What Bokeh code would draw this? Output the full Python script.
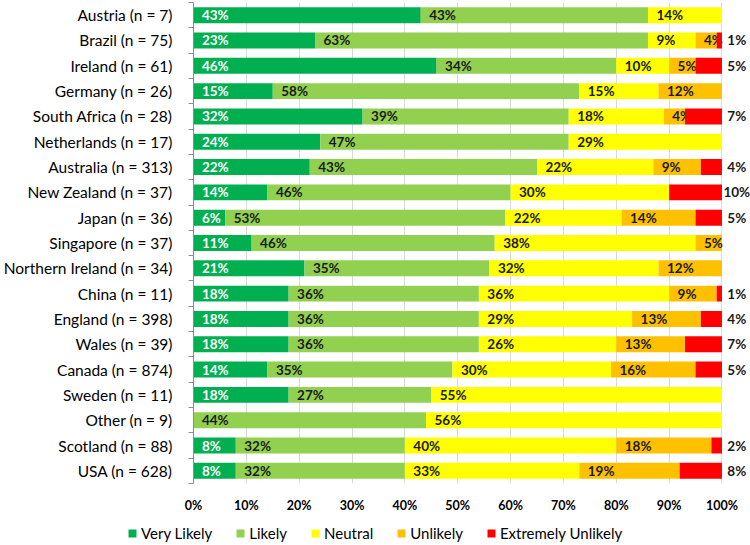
import numpy as np
from bokeh.plotting import figure
from bokeh.layouts import column
from bokeh.models import (Range1d, FixedTicker, Legend, LegendItem, ColumnDataSource)
from bokeh.core.properties import value
from bokeh.embed import file_html
from bokeh.resources import INLINE

categories = ["Austria (n = 7)", "Brazil (n = 75)", "Ireland (n = 61)", "Germany (n = 26)",
              "South Africa (n = 28)", "Netherlands (n = 17)", "Australia (n = 313)",
              "New Zealand (n = 37)", "Japan (n = 36)", "Singapore (n = 37)",
              "Northern Ireland (n = 34)", "China (n = 11)", "England (n = 398)",
              "Wales (n = 39)", "Canada (n = 874)", "Sweden (n = 11)", "Other (n = 9)",
              "Scotland (n = 88)", "USA (n = 628)"]
very_likely = [43, 23, 46, 15, 32, 24, 22, 14, 6, 11, 21, 18, 18, 18, 14, 18, 0, 8, 8]
likely      = [43, 63, 34, 58, 39, 47, 43, 46, 53, 46, 35, 36, 36, 36, 35, 27, 44, 32, 32]
neutral     = [14, 9, 10, 15, 18, 29, 22, 30, 22, 38, 32, 36, 29, 26, 30, 55, 56, 40, 33]
unlikely    = [0, 4, 5, 12, 4, 0, 9, 0, 14, 5, 12, 9, 13, 13, 16, 0, 0, 18, 19]
extremely   = [0, 1, 5, 0, 7, 0, 4, 10, 5, 0, 0, 1, 4, 7, 5, 0, 0, 2, 8]
series_names = ["Very Likely", "Likely", "Neutral", "Unlikely", "Extremely Unlikely"]
series_colors = ["#00B050", "#92D050", "#FFFF00", "#FFC000", "#FF0000"]
x_ticks = [0, 10, 20, 30, 40, 50, 60, 70, 80, 90, 100]

FONT = "Lato"
n = len(categories)
ys = np.arange(n)[::-1].astype(float)

p = figure(width=750, height=515, output_backend="svg", toolbar_location=None,
           x_range=Range1d(0, 105.4), y_range=Range1d(-0.5, n - 0.5),
           min_border_left=188, min_border_right=0, min_border_top=2,
           min_border_bottom=26)
p.outline_line_color = None
p.background_fill_color = "white"
p.border_fill_color = "white"

series = [very_likely, likely, neutral, unlikely, extremely]
cum = np.zeros(n)
pad = 1.6
for k, (vals, name, color) in enumerate(zip(series, series_names, series_colors)):
    v = np.array(vals, dtype=float)
    left = cum.copy()
    right = cum + v
    src = ColumnDataSource(dict(y=ys, left=left, right=right))
    p.hbar(y="y", left="left", right="right", height=0.63, source=src,
           fill_color=color, line_color=None)
    mask = v > 0
    if k == 4:
        lx = np.full(n, 102.8)
        align = "center"
    else:
        lx = left + pad
        align = "left"
    lsrc = ColumnDataSource(dict(x=lx[mask], y=ys[mask],
                                 t=[f"{int(a)}%" for a in v[mask]]))
    p.text(x="x", y="y", text="t", source=lsrc, text_align=align,
           text_baseline="middle", text_font=value(FONT), text_font_size="13.5px",
           text_font_style="bold", text_color="white" if k == 0 else "#1a1a1a")
    cum = right

# y axis
p.yaxis.ticker = FixedTicker(ticks=list(ys), minor_ticks=[k - 0.5 for k in range(n + 1)])
p.yaxis.major_label_overrides = {float(y): c for y, c in zip(ys, categories)}
p.yaxis.axis_line_color = "#8c8c8c"
p.yaxis.major_tick_line_color = None
p.yaxis.major_tick_out = 0
p.yaxis.major_tick_in = 0
p.yaxis.minor_tick_line_color = "#8c8c8c"
p.yaxis.minor_tick_out = 5
p.yaxis.minor_tick_in = 0
p.yaxis.major_label_standoff = 16
p.yaxis.major_label_text_font = FONT
p.yaxis.major_label_text_font_size = "15.5px"
p.yaxis.major_label_text_color = "black"
p.ygrid.grid_line_color = None

# x axis
p.xaxis.ticker = FixedTicker(ticks=x_ticks)
p.xaxis.major_label_overrides = {t: f"{t}%" for t in x_ticks}
p.xaxis.axis_line_color = None
p.xaxis.major_tick_line_color = None
p.xaxis.minor_tick_line_color = None
p.xaxis.major_label_standoff = 8
p.xaxis.major_label_text_font = FONT
p.xaxis.major_label_text_font_size = "12.5px"
p.xaxis.major_label_text_font_style = "bold"
p.xaxis.major_label_text_color = "black"
p.xgrid.grid_line_color = "#d9d9d9"
p.xgrid.grid_line_width = 1

# legend strip below the chart, spanning the full width
lg = figure(width=750, height=30, output_backend="svg", toolbar_location=None,
            x_range=Range1d(0, 1), y_range=Range1d(0, 1),
            min_border_left=0, min_border_right=0, min_border_top=0, min_border_bottom=0)
if "frame_align" in lg.properties():
    lg.frame_align = False
lg.axis.visible = False
lg.grid.visible = False
lg.outline_line_color = None
items = []
for name, color in zip(series_names, series_colors):
    esrc = ColumnDataSource(dict(y=[np.nan], left=[np.nan], right=[np.nan]))
    r = lg.hbar(y="y", left="left", right="right", height=0.5, source=esrc,
                fill_color=color, line_color=None)
    items.append(LegendItem(label=name, renderers=[r]))
legend = Legend(items=items, orientation="horizontal", location=(127, 3))
legend.label_text_font = FONT
legend.label_text_font_size = "15px"
legend.label_text_color = "black"
legend.glyph_width = 10
legend.glyph_height = 10
legend.label_standoff = 4
legend.spacing = 23
legend.border_line_color = None
legend.background_fill_alpha = 0
legend.padding = 0
legend.margin = 0
lg.add_layout(legend, "center")

layout = column(p, lg, spacing=0)
open("out.html", "w").write(file_html(layout, INLINE))
